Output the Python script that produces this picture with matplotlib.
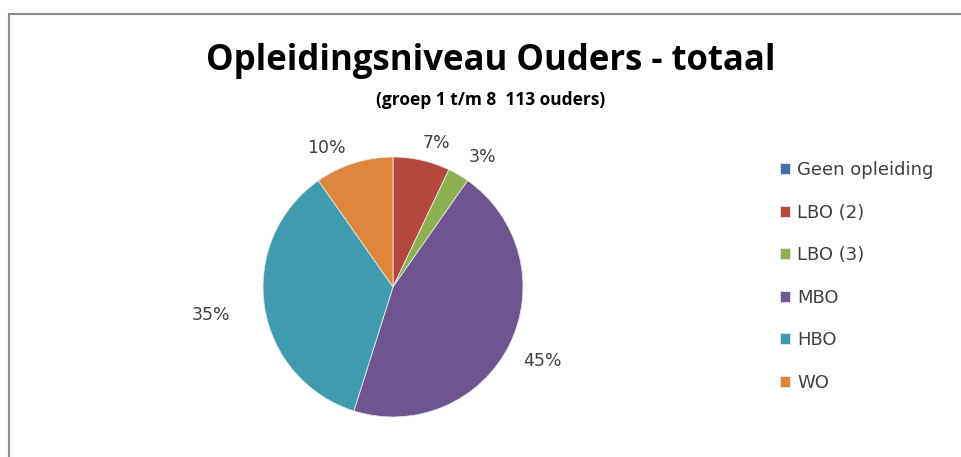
import matplotlib
matplotlib.use("Agg")
import matplotlib.pyplot as plt
from matplotlib import font_manager
import numpy as np

# ---- data ----
categories = ["Geen opleiding", "LBO (2)", "LBO (3)", "MBO", "HBO", "WO"]
counts = [0, 8, 3, 51, 40, 11]
colors = ["#3F6FAE", "#B5473F", "#8DB050", "#6E5490", "#3E9BB0", "#DD873E"]
title = "Opleidingsniveau Ouders - totaal"
subtitle = "(groep 1 t/m 8  113 ouders)"

avail = {f.name for f in font_manager.fontManager.ttflist}
narrow = "Liberation Sans Narrow" if "Liberation Sans Narrow" in avail else "Open Sans"

fig = plt.figure(figsize=(9.62, 4.57), dpi=100)
fig.patch.set_facecolor("white")

# frame lines (top and left)
fig.add_artist(plt.Line2D([9/962, 1], [1 - 13.5/457, 1 - 13.5/457], color="#8c8c8c", lw=1.5))
fig.add_artist(plt.Line2D([9/962, 9/962], [0, 1 - 13.5/457], color="#8c8c8c", lw=1.5))

ax = fig.add_axes([263/962, 40/457, 260/962, 260/457])
wedges, _ = ax.pie(counts, colors=colors, startangle=90, counterclock=False,
                   radius=1.0, wedgeprops=dict(linewidth=0.6, edgecolor="#e8e8e8"))
ax.set_xlim(-1, 1)
ax.set_ylim(-1, 1)
ax.set_aspect("equal")
ax.axis("off")

total = sum(counts)
# label placement style (radius, clockwise angle shift in degrees)
label_r = [1.2, 1.155, 1.217, 1.28, 1.42, 1.19]
label_shift = [0, 3.9, 4.4, 0, 0, -8.1]
for w, c, r, s in zip(wedges, counts, label_r, label_shift):
    if c == 0:
        continue
    ang = np.deg2rad((w.theta1 + w.theta2) / 2 - s)
    ax.text(r * np.cos(ang), r * np.sin(ang), f"{round(100 * c / total)}%",
            ha="center", va="center", fontsize=12.5, color="#404040", clip_on=False)

fig.text(491/962, 1 - 61/457, title, ha="center", va="center",
         fontsize=25, fontweight="bold", family=narrow, color="black")
fig.text(491/962, 1 - 100/457, subtitle, ha="center", va="center",
         fontsize=12.5, fontweight="bold", family=narrow, color="black")

leg = fig.legend(wedges, categories, loc="upper left", bbox_to_anchor=(780/962, 1 - 161/457),
                 frameon=False, fontsize=13, handlelength=0.55, handleheight=0.55,
                 handletextpad=0.4, labelspacing=1.36, borderpad=0, borderaxespad=0)
for t in leg.get_texts():
    t.set_color("#404040")

fig.savefig("out.png", dpi=100, facecolor="white")
